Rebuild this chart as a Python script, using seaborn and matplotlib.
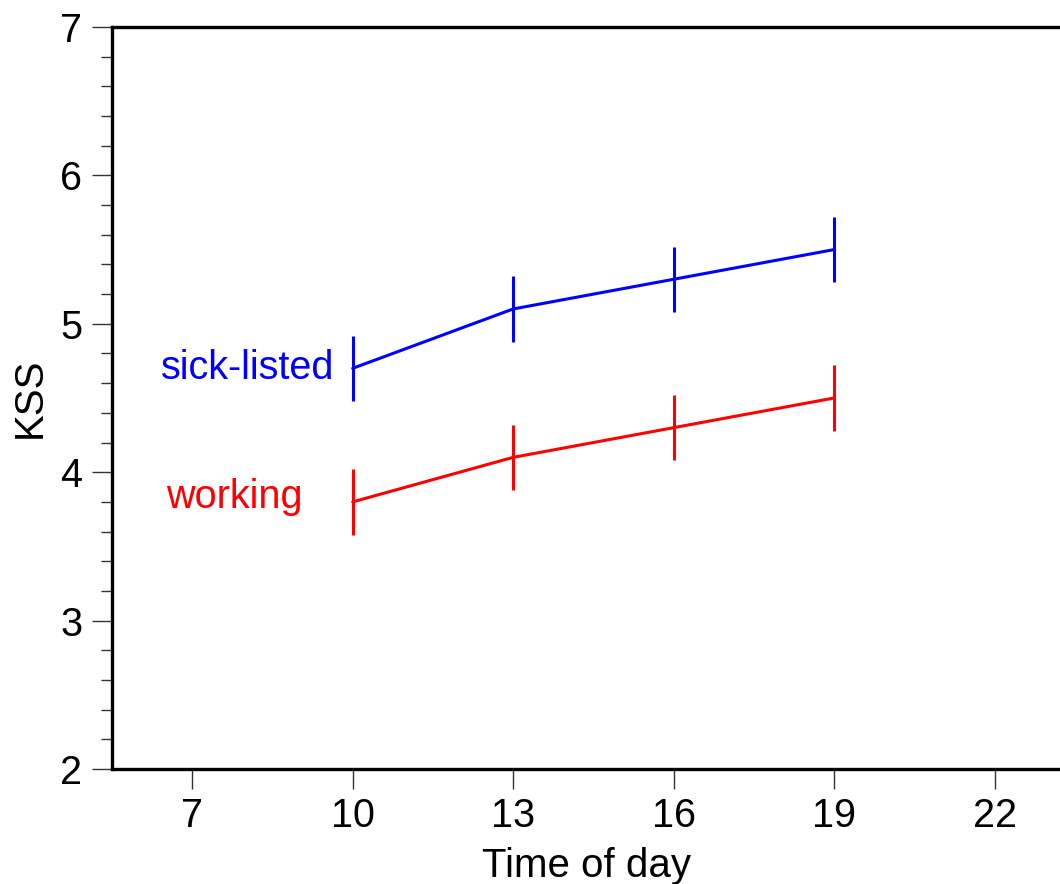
import matplotlib
matplotlib.use("Agg")
import matplotlib.pyplot as plt
import pandas as pd
import seaborn as sns
from matplotlib.ticker import MultipleLocator

# Data
time_of_day = [10, 13, 16, 19]
sick_listed = [4.7, 5.1, 5.3, 5.5]
working = [3.8, 4.1, 4.3, 4.5]
sick_err = [0.22, 0.22, 0.22, 0.22]
working_err = [0.22, 0.22, 0.22, 0.22]

x_ticks = [7, 10, 13, 16, 19, 22]
y_ticks = [2, 3, 4, 5, 6, 7]

df = pd.DataFrame({
    "time": time_of_day * 2,
    "kss": sick_listed + working,
    "err": sick_err + working_err,
    "group": ["sick-listed"] * 4 + ["working"] * 4,
})
colors = {"sick-listed": "#0000ff", "working": "#ff0000"}

sns.set_theme(style="white")
plt.rcParams["font.family"] = ["Liberation Sans", "DejaVu Sans"]

fig = plt.figure(figsize=(10.6, 8.84), dpi=100)
ax = fig.add_axes([112 / 1060, 115 / 884, 1 - 112 / 1060, 742 / 884])

sns.lineplot(data=df, x="time", y="kss", hue="group", palette=colors,
             linewidth=2.2, legend=False, ax=ax)
for grp, sub in df.groupby("group"):
    ax.errorbar(sub["time"], sub["kss"], yerr=sub["err"], fmt="none",
                ecolor=colors[grp], elinewidth=2.2, capsize=0)

ax.text(9.66, 4.7, "sick-listed", color=colors["sick-listed"], fontsize=28.5,
        ha="right", va="center")
ax.text(9.07, 3.83, "working", color=colors["working"], fontsize=28.5,
        ha="right", va="center")

ax.set_xlim(5.5, 7 + (1060 - 192) / 53.5)
ax.set_ylim(2, 7)
ax.set_xticks(x_ticks)
ax.set_yticks(y_ticks)
ax.yaxis.set_minor_locator(MultipleLocator(0.2))
ax.tick_params(axis="both", which="major", direction="out", length=14.5,
               width=1.0, color="#333333", labelsize=28.5, labelcolor="black")
ax.tick_params(axis="x", pad=6, bottom=True)
ax.tick_params(axis="y", pad=7, left=True)
ax.tick_params(axis="y", which="minor", direction="out", length=8,
               width=1.0, color="#333333", left=True)

for side in ["left", "bottom", "top"]:
    ax.spines[side].set_linewidth(2.4)
    ax.spines[side].set_color("black")
ax.spines["right"].set_visible(False)

ax.set_xlabel("Time of day", fontsize=29, labelpad=8, color="black")
ax.set_ylabel("KSS", fontsize=29, labelpad=8, color="black")

fig.savefig("out.png", dpi=100)
